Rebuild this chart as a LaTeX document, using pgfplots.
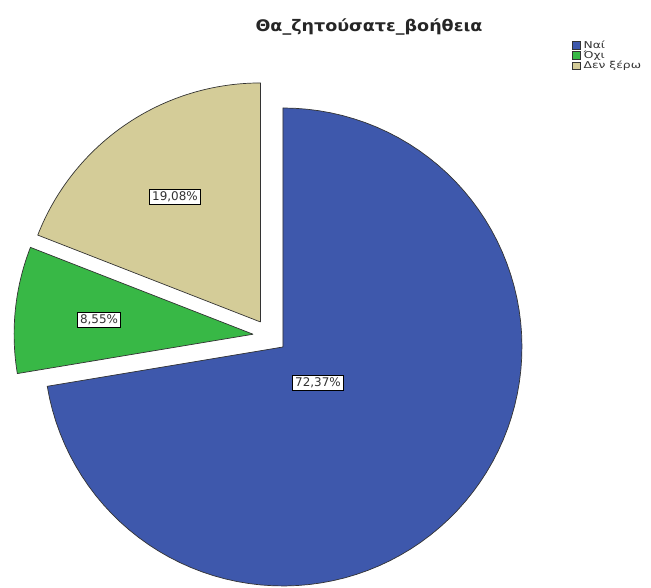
\documentclass[border=0pt]{standalone}
\usepackage{fontspec}
\setmainfont{DejaVu Sans}
\newfontfamily\legfont[FakeStretch=1.3]{DejaVu Sans}
\newfontfamily\titfont[FakeStretch=1.1]{DejaVu Sans}
\usepackage{pgfplots}
\pgfplotsset{compat=1.18}
\definecolor{naiblue}{RGB}{62,88,172}
\definecolor{oxigreen}{RGB}{56,184,70}
\definecolor{dkxtan}{RGB}{212,204,152}
% data (percent)
\def\pA{72.37}
\def\pB{8.55}
\def\pC{19.08}
% geometry (pixel units, y up)
\def\R{239}
\def\Cx{270}
\def\Cy{252}
\def\D{17}
\pgfmathsetmacro\sA{90}
\pgfmathsetmacro\eA{\sA-3.6*\pA}
\pgfmathsetmacro\eB{\eA-3.6*\pB}
\pgfmathsetmacro\eC{\eB-3.6*\pC}
\pgfmathsetmacro\mA{(\sA+\eA)/2}
\pgfmathsetmacro\mB{(\eA+\eB)/2}
\pgfmathsetmacro\mC{(\eB+\eC)/2}
\pgfmathsetmacro\oxA{\Cx+\D*cos(\mA)}\pgfmathsetmacro\oyA{\Cy+\D*sin(\mA)}
\pgfmathsetmacro\oxB{\Cx+\D*cos(\mB)}\pgfmathsetmacro\oyB{\Cy+\D*sin(\mB)}
\pgfmathsetmacro\oxC{\Cx+\D*cos(\mC)}\pgfmathsetmacro\oyC{\Cy+\D*sin(\mC)}
\begin{document}
\begin{tikzpicture}
\begin{axis}[
  scale only axis, width=651bp, height=588bp,
  xmin=0, xmax=651, ymin=0, ymax=588,
  hide axis, clip=false,
  legend style={at={(axis cs:572,548)}, anchor=north west, draw=none, fill=none,
    inner sep=0pt, row sep=0bp,
    font=\legfont\fontsize{9.5}{9}\selectfont,
    nodes={inner sep=0.5bp, text=black!80}},
  legend cell align=left,
  legend image code/.code={\draw[#1, line width=0.4bp] (0bp,-3.6bp) rectangle (7.5bp,3.6bp);},
]
\path (axis cs:0,0) rectangle (axis cs:651,588);
\addplot[fill=naiblue, draw=black!80, line width=0.7bp, line join=miter, domain=0:92, samples=93, variable=\t]
 ({(\t<0.5 || \t>91.5) ? \oxA : \oxA + \R*cos(\sA + (\t-1)*(\eA-\sA)/90)},
  {(\t<0.5 || \t>91.5) ? \oyA : \oyA + \R*sin(\sA + (\t-1)*(\eA-\sA)/90)});
\addlegendentry{\hspace{3bp}Ναί}
\addplot[fill=oxigreen, draw=black!80, line width=0.7bp, line join=miter, domain=0:92, samples=93, variable=\t]
 ({(\t<0.5 || \t>91.5) ? \oxB : \oxB + \R*cos(\eA + (\t-1)*(\eB-\eA)/90)},
  {(\t<0.5 || \t>91.5) ? \oyB : \oyB + \R*sin(\eA + (\t-1)*(\eB-\eA)/90)});
\addlegendentry{\hspace{3bp}Όχι}
\addplot[fill=dkxtan, draw=black!80, line width=0.7bp, line join=miter, domain=0:92, samples=93, variable=\t]
 ({(\t<0.5 || \t>91.5) ? \oxC : \oxC + \R*cos(\eB + (\t-1)*(\eC-\eB)/90)},
  {(\t<0.5 || \t>91.5) ? \oyC : \oyC + \R*sin(\eB + (\t-1)*(\eC-\eB)/90)});
\addlegendentry{\hspace{3bp}Δεν ξέρω}
\node[draw=black, fill=white, inner sep=2.6bp, line width=0.8bp, text=black!80, font=\fontsize{12}{13}\selectfont] at (axis cs:318,205) {72,37\%};
\node[draw=black, fill=white, inner sep=2.6bp, line width=0.8bp, text=black!80, font=\fontsize{12}{13}\selectfont] at (axis cs:99,268) {8,55\%};
\node[draw=black, fill=white, inner sep=2.6bp, line width=0.8bp, text=black!80, font=\fontsize{12}{13}\selectfont] at (axis cs:175,391) {19,08\%};
\node[font=\titfont\bfseries\fontsize{16}{18}\selectfont, text=black!85] at (axis cs:369,561) {Θα\_ζητούσατε\_βοήθεια};
\end{axis}
\end{tikzpicture}
\end{document}
